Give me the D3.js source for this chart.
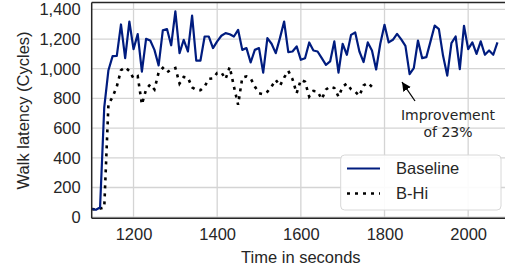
<!DOCTYPE html>
<html><head><meta charset="utf-8">
<script src="https://cdn.jsdelivr.net/npm/d3@7"></script>
<style>body{margin:0;background:#fff}svg{display:block}</style>
</head><body><svg id="c" width="505" height="271"></svg>
<script>
const baselineTimes = [1100,1110,1120,1130,1140,1150,1160,1170,1180,1190,1200,1210,1220,1230,1240,1250,1260,1270,1280,1290,1300,1310,1320,1330,1340,1350,1360,1370,1380,1390,1400,1410,1420,1430,1440,1450,1460,1470,1480,1490,1500,1510,1520,1530,1540,1550,1560,1570,1580,1590,1600,1610,1620,1630,1640,1650,1660,1670,1680,1690,1700,1710,1720,1730,1740,1750,1760,1770,1780,1790,1800,1810,1820,1830,1840,1850,1860,1870,1880,1890,1900,1910,1920,1930,1940,1950,1960,1970,1980,1990,2000,2010,2020,2030,2040,2050,2060,2070];
const baselineValues = [55,50,65,740,990,1085,1087,1298,1071,1318,1132,1233,981,1201,1190,1127,1022,1258,1267,1158,1386,1105,1195,1116,1357,1055,1055,1217,1217,1139,1184,1222,1240,1232,1217,1262,1127,1139,1042,1127,1139,974,1206,1168,1105,1206,1318,1112,1116,1150,1060,1071,1177,1123,1116,1071,1026,1049,1184,974,1168,1094,1228,1244,1116,1045,1177,1123,995,1170,1296,1177,1195,1235,1198,1154,964,1004,1190,1071,1078,1184,1291,1267,1087,954,1173,1217,997,1289,1132,1177,1100,1184,1094,1123,1094,1177];
const bhiTimes = [1100,1110,1120,1130,1140,1150,1160,1170,1180,1190,1200,1210,1220,1230,1240,1250,1260,1270,1280,1290,1300,1310,1320,1330,1340,1350,1360,1370,1380,1390,1400,1410,1420,1430,1440,1450,1460,1470,1480,1490,1500,1510,1520,1530,1540,1550,1560,1570,1580,1590,1600,1610,1620,1630,1640,1650,1660,1670,1680,1690,1700,1710,1720,1730,1740,1750,1760,1770];
const bhiValues = [55,52,58,65,760,810,880,990,1010,985,935,950,760,860,895,860,975,1005,975,995,1005,900,945,940,875,858,855,880,932,935,972,975,930,1012,880,757,940,948,935,880,835,828,845,880,925,885,940,985,930,835,925,912,812,850,846,795,860,880,870,812,880,900,862,845,818,888,905,878];
const seriesNames = ["Baseline","B-Hi"];
const xTicks = [1200,1400,1600,1800,2000];
const yTicks = [0,200,400,600,800,1000,1200,1400];
const annotationLines = ["Improvement","of 23%"];
const xLabel = "Time in seconds";
const yLabel = "Walk latency (Cycles)";

const svg = d3.select("#c");
const L = 91.7, R = 510, T = 2.5, B = 218.3;
const x = d3.scaleLinear().domain([1100, 2100]).range([L, R]);
const y = d3.scaleLinear().domain([-7.4, 1446]).range([B, T]);
const FONT = "'Liberation Sans', Arial, sans-serif";

svg.append("defs").append("clipPath").attr("id","clip")
  .append("rect").attr("x",L).attr("y",T).attr("width",R-L).attr("height",B-T);

// grid
const grid = svg.append("g");
grid.selectAll("line.h").data(yTicks).join("line")
  .attr("x1",L).attr("x2",R).attr("y1",d=>y(d)).attr("y2",d=>y(d))
  .attr("stroke","#d4d4d4").attr("stroke-width",1.3);
grid.selectAll("line.v").data(xTicks).join("line")
  .attr("y1",T).attr("y2",B).attr("x1",d=>x(d)).attr("x2",d=>x(d))
  .attr("stroke","#d4d4d4").attr("stroke-width",1.3);

// axes (d3 axes, ticks hidden, labels styled)
const xAxis = svg.append("g").attr("transform",`translate(0,${B})`)
  .call(d3.axisBottom(x).tickValues(xTicks).tickSize(0).tickPadding(10).tickFormat(d3.format("d")));
const yAxis = svg.append("g").attr("transform",`translate(${L},0)`)
  .call(d3.axisLeft(y).tickValues(yTicks).tickSize(0).tickPadding(11).tickFormat(d3.format(",")));
[xAxis,yAxis].forEach(a=>{
  a.select(".domain").remove();
  a.selectAll("text").attr("font-family",FONT).attr("font-size",16.5).attr("fill","#262626");
});

// lines
const lineGen = d3.line().x(d=>x(d[0])).y(d=>y(d[1]));
const plot = svg.append("g").attr("clip-path","url(#clip)");
plot.append("path").datum(bhiTimes.map((t,i)=>[t,bhiValues[i]]))
  .attr("d",lineGen).attr("fill","none").attr("stroke","#000")
  .attr("stroke-width",2.6).attr("stroke-dasharray","3,5");
plot.append("path").datum(baselineTimes.map((t,i)=>[t,baselineValues[i]]))
  .attr("d",lineGen).attr("fill","none").attr("stroke","#001c7f")
  .attr("stroke-width",2.2).attr("stroke-linejoin","round");

// spines
svg.append("line").attr("x1",L).attr("x2",L).attr("y1",T).attr("y2",B).attr("stroke","#262626").attr("stroke-width",1.5);
svg.append("line").attr("x1",L).attr("x2",R).attr("y1",B).attr("y2",B).attr("stroke","#262626").attr("stroke-width",1.5);
svg.append("line").attr("x1",L).attr("x2",R).attr("y1",T).attr("y2",T).attr("stroke","#262626").attr("stroke-width",1.5);

// axis labels
svg.append("text").attr("x",(L+R)/2).attr("y",263).attr("text-anchor","middle")
  .attr("font-family",FONT).attr("font-size",16.5).attr("fill","#262626").text(xLabel);
svg.append("text").attr("transform",`translate(29,${(T+B)/2}) rotate(-90)`).attr("text-anchor","middle")
  .attr("font-family",FONT).attr("font-size",16.5).attr("fill","#262626").text(yLabel);

// annotation
svg.append("defs").append("marker").attr("id","ah").attr("viewBox","0 0 10 10")
  .attr("refX",10).attr("refY",5).attr("markerWidth",9).attr("markerHeight",9)
  .attr("markerUnits","userSpaceOnUse").attr("orient","auto")
  .append("path").attr("d","M0,0 L10,5 L0,10 Z").attr("fill","#000");
svg.append("line").attr("x1",415).attr("y1",101).attr("x2",402).attr("y2",82)
  .attr("stroke","#000").attr("stroke-width",1.3).attr("marker-end","url(#ah)");
const ann = svg.append("text").attr("font-family","'DejaVu Sans', sans-serif")
  .attr("font-size",14).attr("fill","#262626").attr("text-anchor","middle");
annotationLines.forEach((s,i)=>ann.append("tspan").attr("x",448).attr("y",120+i*17).text(s));

// legend
const lg = svg.append("g");
lg.append("rect").attr("x",340.7).attr("y",155).attr("width",160.3).attr("height",55)
  .attr("rx",4).attr("fill","#fff").attr("fill-opacity",0.9).attr("stroke","#d8d8d8").attr("stroke-width",1);
const legItems = [
  {name:seriesNames[0], color:"#001c7f", dash:null, w:2.2},
  {name:seriesNames[1], color:"#000", dash:"3,5", w:2.6}
];
legItems.forEach((it,i)=>{
  const cy = 168.5 + i*25;
  lg.append("line").attr("x1",347).attr("x2",380).attr("y1",cy).attr("y2",cy)
    .attr("stroke",it.color).attr("stroke-width",it.w).attr("stroke-dasharray",it.dash);
  lg.append("text").attr("x",396).attr("y",cy).attr("dy","0.36em")
    .attr("font-family",FONT).attr("font-size",16.5).attr("fill","#262626").text(it.name);
});
</script></body></html>
